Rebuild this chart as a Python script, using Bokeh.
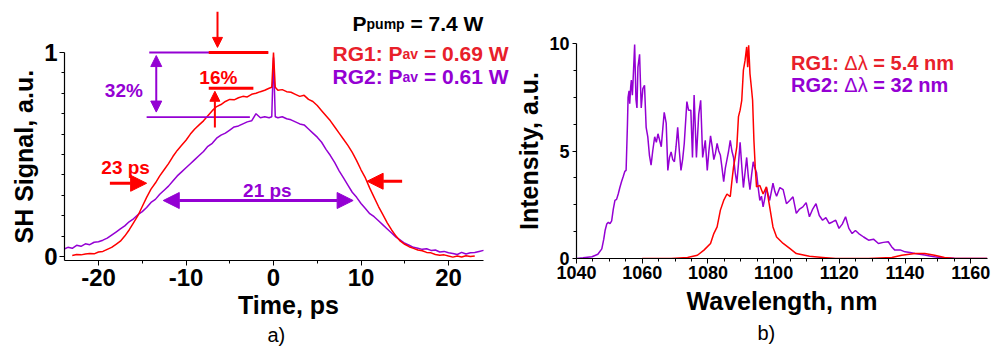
import numpy as np
from bokeh.plotting import figure
from bokeh.layouts import row
from bokeh.models import Label, Arrow, NormalHead, FixedTicker, Range1d, Title
from bokeh.embed import file_html
from bokeh.resources import INLINE

FONT = "Liberation Sans"
RED = "#FF0000"
RED_T = "#E8202A"
PURPLE = "#9400D3"

# ---------------- data: a) autocorrelation traces ----------------
time_rg1 = [-23.0, -22.5, -22.0, -21.5, -21.0, -20.5, -20.0, -19.5, -19.0, -18.5, -18.0, -17.5,
            -17.0, -16.5, -16.0, -15.5, -15.0, -14.5, -14.0, -13.5, -13.0, -12.5, -12.0, -11.5,
            -11.0, -10.5, -10.0, -9.5, -9.0, -8.5, -8.0, -7.5, -7.0, -6.5, -6.0, -5.5, -5.0, -4.5,
            -4.0, -3.5, -3.0, -2.5, -2.0, -1.5, -1.0, -0.5, -0.2, 0.0, 0.2, 0.5, 1.0, 1.5, 2.0,
            2.5, 3.0, 3.5, 4.0, 4.5, 5.0, 5.5, 6.0, 6.5, 7.0, 7.5, 8.0, 8.5, 9.0, 9.5, 10.0, 10.5,
            11.0, 11.5, 12.0, 12.5, 13.0, 13.5, 14.0, 14.5, 15.0, 15.5, 16.0, 16.5, 17.0, 17.5,
            18.0, 18.5, 19.0, 19.5, 20.0, 20.5, 21.0, 21.5, 22.0, 22.5, 23.0]
sig_rg1 = [0.005, 0.010, 0.008, 0.012, 0.015, 0.013, 0.022, 0.025, 0.035, 0.045, 0.060, 0.075,
           0.100, 0.130, 0.165, 0.200, 0.245, 0.290, 0.330, 0.360, 0.395, 0.425, 0.455, 0.490,
           0.520, 0.545, 0.570, 0.600, 0.625, 0.645, 0.665, 0.690, 0.715, 0.735, 0.745, 0.760,
           0.770, 0.768, 0.778, 0.785, 0.782, 0.795, 0.800, 0.808, 0.815, 0.825, 0.830, 1.000,
           0.830, 0.815, 0.818, 0.808, 0.805, 0.795, 0.785, 0.790, 0.770, 0.760, 0.740, 0.715,
           0.690, 0.665, 0.635, 0.605, 0.575, 0.545, 0.510, 0.470, 0.425, 0.385, 0.335, 0.290,
           0.245, 0.205, 0.165, 0.130, 0.100, 0.075, 0.060, 0.048, 0.040, 0.032, 0.028, 0.020,
           0.018, 0.010, 0.006, 0.008, 0.002, -0.003, 0.002, -0.002, 0.004, 0.000, 0.003]

time_rg2 = [-24.0, -23.5, -23.0, -22.5, -22.0, -21.5, -21.0, -20.5, -20.0, -19.5, -19.0, -18.5,
            -18.0, -17.5, -17.0, -16.5, -16.0, -15.5, -15.0, -14.5, -14.0, -13.5, -13.0, -12.5,
            -12.0, -11.5, -11.0, -10.5, -10.0, -9.5, -9.0, -8.5, -8.0, -7.5, -7.0, -6.5, -6.0,
            -5.5, -5.0, -4.5, -4.0, -3.5, -3.0, -2.5, -2.0, -1.5, -1.0, -0.5, -0.2, 0.0, 0.2, 0.5,
            1.0, 1.5, 2.0, 2.5, 3.0, 3.5, 4.0, 4.5, 5.0, 5.5, 6.0, 6.5, 7.0, 7.5, 8.0, 8.5, 9.0,
            9.5, 10.0, 10.5, 11.0, 11.5, 12.0, 12.5, 13.0, 13.5, 14.0, 14.5, 15.0, 15.5, 16.0,
            16.5, 17.0, 17.5, 18.0, 18.5, 19.0, 19.5, 20.0, 20.5, 21.0, 21.5, 22.0, 22.5, 23.0,
            23.5, 24.0]
sig_rg2 = [0.035, 0.045, 0.040, 0.055, 0.050, 0.062, 0.058, 0.070, 0.072, 0.080, 0.090, 0.105,
           0.120, 0.135, 0.150, 0.170, 0.185, 0.205, 0.220, 0.240, 0.265, 0.280, 0.305, 0.325,
           0.345, 0.370, 0.395, 0.415, 0.435, 0.455, 0.475, 0.495, 0.515, 0.540, 0.555, 0.580,
           0.595, 0.605, 0.620, 0.635, 0.640, 0.650, 0.660, 0.665, 0.700, 0.680, 0.685, 0.680,
           0.685, 0.975, 0.685, 0.680, 0.685, 0.675, 0.670, 0.660, 0.650, 0.645, 0.625, 0.605,
           0.585, 0.560, 0.525, 0.495, 0.460, 0.420, 0.385, 0.350, 0.315, 0.290, 0.260, 0.235,
           0.210, 0.195, 0.175, 0.155, 0.135, 0.115, 0.095, 0.080, 0.065, 0.055, 0.045, 0.040,
           0.035, 0.038, 0.030, 0.032, 0.022, 0.025, 0.018, 0.015, 0.010, 0.020, 0.012, 0.018,
           0.020, 0.025, 0.030]

time_ticks = [-20, -10, 0, 10, 20]
time_minor = [-15, -5, 5, 15]
signal_ticks = [0, 1]

# ---------------- data: b) spectra ----------------
wl_rg1 = [1060.0, 1068.8, 1073.8, 1076.8, 1078.8, 1080.8, 1081.8, 1082.8, 1083.8, 1084.8,
          1085.8, 1086.8, 1087.3, 1087.8, 1088.3, 1088.8, 1089.3, 1089.8, 1090.3, 1090.8,
          1091.3, 1091.8, 1092.1, 1092.4, 1092.8, 1093.2, 1093.6, 1094.0, 1094.4, 1094.8,
          1095.8, 1096.8, 1097.8, 1098.8, 1099.8, 1100.9, 1102.9, 1104.9, 1106.9, 1110.9,
          1114.9, 1118.9, 1128.9, 1136.0, 1139.0, 1143.0, 1146.0, 1149.0, 1152.0, 1155.0, 1165.0]
int_rg1 = [0.0, 0.0, 0.05, 0.15, 0.39, 0.70, 1.16, 1.47, 2.25, 2.70,
           3.00, 2.87, 3.60, 4.26, 4.70, 5.20, 6.60, 6.90, 7.36, 8.76,
           9.20, 9.84, 8.90, 9.92, 8.60, 8.00, 7.36, 5.50, 4.26, 3.33,
           3.40, 3.00, 3.33, 2.40, 1.47, 1.00, 0.70, 0.47, 0.23, 0.10,
           0.05, 0.0, 0.0, 0.05, 0.15, 0.23, 0.23, 0.15, 0.05, 0.0, 0.0]

wl_rg2 = [1040.0, 1042.0, 1044.7, 1046.5, 1047.7, 1048.3, 1048.7, 1049.2, 1049.7, 1050.2,
          1050.7, 1051.2, 1051.7, 1052.2, 1052.7, 1053.2, 1053.7, 1054.2, 1054.7, 1055.1,
          1055.5, 1055.7, 1056.0, 1056.2, 1056.5, 1056.7, 1057.0, 1057.2, 1057.7, 1058.1,
          1058.4, 1058.7, 1059.2, 1059.7, 1060.2, 1060.7, 1061.2, 1061.7, 1062.2, 1062.7,
          1063.2, 1063.8, 1064.3, 1064.8, 1065.3, 1065.8, 1066.3, 1066.7, 1067.3, 1067.8,
          1068.3, 1068.8, 1069.3, 1069.8, 1070.3, 1070.8, 1071.3, 1071.8, 1072.3, 1072.8,
          1073.6, 1074.1, 1074.8, 1075.3, 1075.8, 1076.5, 1077.2, 1077.8, 1078.4, 1079.2,
          1079.8, 1080.3, 1080.8, 1081.3, 1081.8, 1082.3, 1082.8, 1083.3, 1083.8, 1084.3,
          1084.8, 1085.3, 1085.8, 1086.3, 1086.8, 1087.3, 1087.8, 1088.3, 1088.8, 1089.3,
          1089.8, 1090.3, 1090.8, 1091.3, 1091.8, 1092.3, 1092.8, 1093.3, 1093.8, 1094.3,
          1094.8, 1095.3, 1095.8, 1096.3, 1096.8, 1097.3, 1097.8, 1098.3, 1098.8, 1099.3,
          1099.8, 1100.4, 1100.9, 1101.9, 1102.9, 1103.9, 1104.9, 1105.9, 1106.9, 1107.9,
          1108.9, 1109.9, 1110.9, 1111.9, 1112.9, 1113.9, 1114.9, 1115.9, 1116.9, 1117.9,
          1118.9, 1119.9, 1120.9, 1121.9, 1122.9, 1123.9, 1124.9, 1125.9, 1127.4, 1128.9,
          1130.4, 1131.9, 1133.4, 1134.9, 1135.9, 1136.9, 1138.5, 1140.0, 1141.5, 1143.0,
          1144.5, 1146.0, 1147.5, 1149.0, 1150.5, 1152.0, 1155.0, 1159.0, 1165.0]
int_rg2 = [0.0, 0.03, 0.08, 0.20, 0.45, 0.90, 1.30, 1.60, 1.68, 1.62,
           1.75, 2.30, 2.70, 2.75, 3.00, 3.30, 3.57, 3.80, 4.05, 4.10,
           6.20, 7.50, 7.80, 7.20, 8.00, 8.30, 7.60, 8.20, 9.95, 7.40,
           7.00, 8.90, 9.50, 7.00, 7.90, 8.06, 6.10, 5.66, 4.80, 4.34,
           5.00, 5.66, 5.40, 5.80, 5.50, 5.20, 6.10, 6.80, 6.30, 4.10,
           4.70, 4.96, 4.60, 4.50, 5.20, 6.10, 5.00, 4.10, 4.60, 5.35,
           7.30, 6.90, 6.90, 4.70, 7.60, 4.70, 6.70, 7.36, 4.70, 5.50,
           4.10, 5.00, 5.70, 5.20, 4.60, 4.90, 5.35, 5.00, 4.80, 4.20,
           3.57, 4.20, 4.60, 5.00, 5.50, 5.00, 4.70, 4.00, 3.50, 4.40,
           5.40, 4.30, 3.30, 4.00, 4.70, 3.80, 3.20, 3.90, 4.50, 4.20,
           4.00, 3.30, 2.70, 2.90, 2.40, 2.80, 3.30, 3.00, 2.70, 3.10,
           3.50, 3.10, 2.90, 3.30, 3.20, 2.55, 2.70, 2.87, 2.10, 2.30,
           2.40, 2.60, 1.94, 2.30, 2.55, 2.00, 1.78, 1.90, 1.63, 1.70,
           1.78, 1.40, 1.60, 1.94, 1.40, 1.16, 1.30, 1.16, 1.00, 0.85,
           0.90, 0.70, 0.75, 0.78, 0.55, 0.39, 0.40, 0.31, 0.28, 0.23,
           0.20, 0.16, 0.12, 0.08, 0.05, 0.03, 0.01, 0.0, 0.0]

wl_ticks = [1040, 1060, 1080, 1100, 1120, 1140, 1160]
wl_minor = [1045, 1050, 1055, 1065, 1070, 1075, 1085, 1090, 1095, 1105, 1110, 1115,
            1125, 1130, 1135, 1145, 1150, 1155]
int_ticks = [0, 5, 10]
int_minor = [1.25, 2.5, 3.75, 6.25, 7.5, 8.75]

# annotation values
fwhm_rg1, fwhm_rg2 = "23 ps", "21 ps"
contrast_rg1, contrast_rg2 = 16, 32

# ---------------- text helpers ----------------
W_BOLD = {' ': .278, ':': .333, '=': .584, '.': .278, 'P': .667, 'R': .722, 'G': .778,
          'W': .944, 'a': .556, 'v': .556, 'p': .611, 'u': .611, 'm': .889, 'n': .611,
          '%': .889, 's': .556}
W_NORM = {'Δ': .65, 'λ': .52}


def tw(s, size, style):
    tab = W_NORM if style == "normal" else W_BOLD
    return sum(tab.get(c, W_BOLD.get(c, .556)) for c in s) * size


def rich_label(p, x, y, parts, color):
    off = 0.0
    for txt, size, style in parts:
        lead = len(txt) - len(txt.lstrip(' '))
        off += tw(' ' * lead, size, "bold")
        core = txt.strip(' ')
        p.add_layout(Label(x=x, y=y, x_offset=off, text=core, text_font=FONT,
                           text_font_size=f"{size}px", text_font_style=style,
                           text_color=color, text_baseline="alphabetic"))
        off += tw(txt.lstrip(' '), size, style)


def label(p, x, y, txt, color, size, style="bold", **kw):
    p.add_layout(Label(x=x, y=y, text=txt, text_font=FONT, text_font_size=f"{size}px",
                       text_font_style=style, text_color=color, text_align="center",
                       text_baseline="alphabetic", **kw))


def arrow(p, x0, y0, x1, y1, color, size, lw, double=False):
    head = lambda: NormalHead(size=size, fill_color=color, line_color=color, line_width=1)
    p.add_layout(Arrow(x_start=x0, y_start=y0, x_end=x1, y_end=y1, line_color=color,
                       line_width=lw, end=head(), start=head() if double else None))


def style_axes(p, tick_size, label_size):
    for ax in (p.xaxis[0], p.yaxis[0]):
        ax.axis_line_color = "black"
        ax.axis_line_width = 1.2
        ax.major_tick_line_color = "black"
        ax.minor_tick_line_color = "black"
        ax.major_tick_in = 0
        ax.minor_tick_in = 0
        ax.major_label_text_font = FONT
        ax.major_label_text_font_style = "bold"
        ax.major_label_text_font_size = f"{tick_size}px"
        ax.major_label_text_color = "black"
        ax.axis_label_text_font = FONT
        ax.axis_label_text_font_style = "bold"
        ax.axis_label_text_font_size = f"{label_size}px"
        ax.axis_label_text_color = "black"
    p.grid.visible = False
    p.outline_line_color = None
    p.background_fill_color = "white"
    p.border_fill_color = "white"
    p.frame_align = False


H = 354

# ---------------- a) ----------------
p1 = figure(width=512, height=H, x_range=Range1d(-23.886, 27.314), y_range=Range1d(-0.0196, 1.2549),
            output_backend="svg", toolbar_location=None,
            min_border_left=64, min_border_right=0, min_border_top=0, min_border_bottom=94)
style_axes(p1, 24, 25)
p1.xaxis.ticker = FixedTicker(ticks=time_ticks, minor_ticks=time_minor)
p1.xaxis.major_label_overrides = {t: str(t) for t in time_ticks}
p1.xaxis.bounds = (-23.886, 24)
p1.xaxis.major_tick_out = 5
p1.xaxis.minor_tick_out = 3
p1.xaxis.major_label_standoff = 3
p1.xaxis.axis_label = "Time, ps"
p1.xaxis.axis_label_standoff = 2
p1.yaxis.ticker = FixedTicker(ticks=signal_ticks, minor_ticks=[k / 10 for k in range(1, 10)])
p1.yaxis.bounds = (-0.0196, 1.0)
p1.yaxis.major_tick_out = 5
p1.yaxis.minor_tick_out = 3
p1.yaxis.major_label_standoff = 2
p1.add_layout(Title(text="SH Signal, a.u.", align="left", offset=17, standoff=7, text_font=FONT,
                    text_font_size="25px", text_font_style="bold", text_color="black"), "left")
p1.add_layout(Title(text="a)", align="left", offset=203, standoff=0, text_font=FONT,
                    text_font_size="20px", text_font_style="normal", text_color="black"), "below")

p1.line(time_rg2, sig_rg2, line_color=PURPLE, line_width=1.5)
p1.line(time_rg1, sig_rg1, line_color=RED, line_width=1.5)

# contrast markers (levels)
lvl2 = 0.683
lvl1 = 0.825
p1.segment(x0=[-14.2, -14.5], y0=[1.0, lvl2], x1=[-0.6, -2.7], y1=[1.0, lvl2],
           line_color=PURPLE, line_width=1.8)
p1.segment(x0=[-7.4, -7.4], y0=[1.0, lvl1], x1=[-0.6, -2.3], y1=[1.0, lvl1],
           line_color=RED, line_width=3)
arrow(p1, -13.4, 0.985, -13.4, lvl2 + 0.025, PURPLE, 11, 2, double=True)
arrow(p1, -6.4, 1.20, -6.4, 1.025, RED, 10, 2)
arrow(p1, -6.7, 0.632, -6.7, lvl1 - 0.015, RED, 10, 2)
label(p1, -17.1, 0.814, f"{contrast_rg2}%", PURPLE, 19)
label(p1, -6.3, 0.877, f"{contrast_rg1}%", RED, 19)

# FWHM markers
arrow(p1, -18.7, 0.359, -14.5, 0.359, RED, 16, 3)
arrow(p1, 14.7, 0.369, 10.7, 0.369, RED, 16, 3)
arrow(p1, -12.6, 0.2745, 9.1, 0.2745, PURPLE, 16, 3, double=True)
label(p1, -16.9, 0.436, fwhm_rg1, RED, 19)
label(p1, -0.7, 0.324, fwhm_rg2, PURPLE, 19)

rich_label(p1, 9.03, 1.142, [("P", 21, "bold"), ("pump", 14, "bold"), (" = 7.4 W", 21, "bold")], "black")
rich_label(p1, 6.74, 0.995, [("RG1: P", 21, "bold"), ("av", 14, "bold"), (" = 0.69 W", 21, "bold")], RED_T)
rich_label(p1, 6.74, 0.882, [("RG2: P", 21, "bold"), ("av", 14, "bold"), (" = 0.61 W", 21, "bold")], PURPLE)

# ---------------- b) ----------------
p2 = figure(width=480, height=H, x_range=Range1d(1040, 1165.1), y_range=Range1d(0, 10),
            output_backend="svg", toolbar_location=None,
            min_border_left=59, min_border_right=5, min_border_top=43, min_border_bottom=96)
style_axes(p2, 18, 25)
p2.xaxis.ticker = FixedTicker(ticks=wl_ticks, minor_ticks=wl_minor)
p2.xaxis.major_tick_out = 5
p2.xaxis.minor_tick_out = 3
p2.xaxis.major_label_standoff = 2
p2.xaxis.axis_label = "Wavelength, nm"
p2.xaxis.axis_label_standoff = 5
p2.yaxis.ticker = FixedTicker(ticks=int_ticks, minor_ticks=int_minor)
p2.yaxis.major_tick_out = 4
p2.yaxis.minor_tick_out = 3
p2.yaxis.major_label_standoff = 3
p2.yaxis.axis_label = "Intensity, a.u."
p2.yaxis.axis_label_standoff = 3
p2.add_layout(Title(text="b)", align="left", offset=181, standoff=5, text_font=FONT,
                    text_font_size="20px", text_font_style="normal", text_color="black"), "below")

p2.line(wl_rg2, int_rg2, line_color=PURPLE, line_width=1.5)
p2.line(wl_rg1, int_rg1, line_color=RED, line_width=1.5)

rich_label(p2, 1105.3, 9.07, [("RG1: ", 20, "bold"), ("Δλ", 20, "normal"), (" = 5.4 nm", 20, "bold")], RED_T)
rich_label(p2, 1105.3, 8.05, [("RG2: ", 20, "bold"), ("Δλ", 20, "normal"), (" = 32 nm", 20, "bold")], PURPLE)

layout = row(p1, p2)
open("out.html", "w").write(file_html(layout, INLINE))
